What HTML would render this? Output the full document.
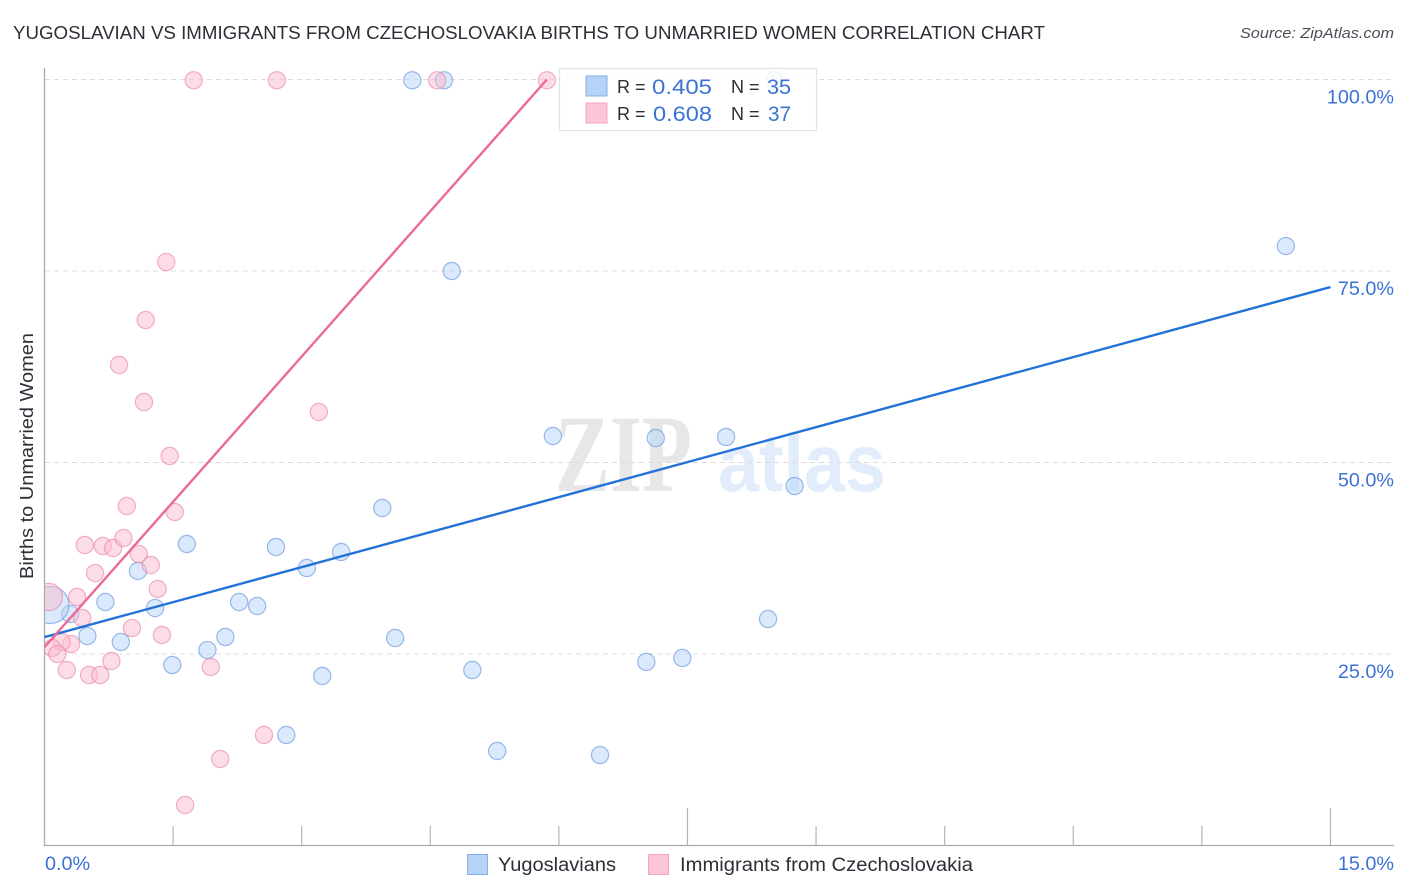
<!DOCTYPE html>
<html lang="en">
<head>
<meta charset="utf-8">
<title>Yugoslavian vs Immigrants from Czechoslovakia Births to Unmarried Women Correlation Chart</title>
<style>
html,body{margin:0;padding:0;background:#fff;}
svg{display:block;font-family:"Liberation Sans",sans-serif;}
</style>
</head>
<body>
<svg id="chart" xmlns="http://www.w3.org/2000/svg" width="1406" height="892" viewBox="0 0 1406 892">
  <defs><clipPath id="plot-clip"><rect x="45" y="60" width="1350" height="786"/></clipPath></defs>
  <rect x="0" y="0" width="1406" height="892" fill="#fff"/>
  <text x="13" y="39" font-size="18.5" fill="#2b2f36" textLength="1032" lengthAdjust="spacingAndGlyphs">YUGOSLAVIAN VS IMMIGRANTS FROM CZECHOSLOVAKIA BIRTHS TO UNMARRIED WOMEN CORRELATION CHART</text>
  <text x="1394" y="38" font-size="15" font-style="italic" fill="#4a4f57" text-anchor="end" textLength="154" lengthAdjust="spacingAndGlyphs">Source: ZipAtlas.com</text>
  <text transform="translate(33,456) rotate(-90)" font-size="18.5" fill="#2b2f36" text-anchor="middle" textLength="246" lengthAdjust="spacingAndGlyphs">Births to Unmarried Women</text>
  <g>
    <text x="555" y="491" font-family="'Liberation Serif',serif" font-weight="bold" font-size="110" fill="#e7e7e7" textLength="137" lengthAdjust="spacingAndGlyphs">ZIP</text>
    <text x="718" y="491" font-weight="bold" font-size="82" fill="#e3ecfb" textLength="168" lengthAdjust="spacingAndGlyphs">atlas</text>
  </g>
  <g id="grid"></g>
  <g id="axes"></g>
  <g id="points" clip-path="url(#plot-clip)"></g>
  <g id="trends"></g>
  <g id="labels"></g>

  <g>
    <rect x="559.5" y="68.5" width="257" height="62" fill="#fff" fill-opacity="0.85" stroke="#e2e2e2" stroke-width="1.2"/>
    <rect x="586" y="76" width="21" height="20" fill="#b5d3f7" stroke="#86aee6" stroke-width="1"/>
    <text x="617" y="93" font-size="18" fill="#2b2f36">R =</text>
    <text x="652" y="94" font-size="21.5" fill="#3b72d6" textLength="60" lengthAdjust="spacingAndGlyphs">0.405</text>
    <text x="731" y="93" font-size="18" fill="#2b2f36">N =</text>
    <text x="767" y="94" font-size="21.5" fill="#3b72d6" textLength="24" lengthAdjust="spacingAndGlyphs">35</text>
    <rect x="586" y="103" width="21" height="20" fill="#fbc6d8" stroke="#f3a5bf" stroke-width="1"/>
    <text x="617" y="120" font-size="18" fill="#2b2f36">R =</text>
    <text x="653" y="121" font-size="21.5" fill="#3b72d6" textLength="59" lengthAdjust="spacingAndGlyphs">0.608</text>
    <text x="731" y="120" font-size="18" fill="#2b2f36">N =</text>
    <text x="768" y="121" font-size="21.5" fill="#3b72d6" textLength="23" lengthAdjust="spacingAndGlyphs">37</text>
  </g>

  <g>
    <rect x="467.5" y="854.5" width="20" height="20" fill="#b5d3f7" stroke="#86aee6" stroke-width="1"/>
    <text x="498" y="871" font-size="19" fill="#2b2f36" textLength="118" lengthAdjust="spacingAndGlyphs">Yugoslavians</text>
    <rect x="648.5" y="854.5" width="20" height="20" fill="#fbc6d8" stroke="#f3a5bf" stroke-width="1"/>
    <text x="680" y="871" font-size="19" fill="#2b2f36" textLength="293" lengthAdjust="spacingAndGlyphs">Immigrants from Czechoslovakia</text>
  </g>
</svg>
<script>
const xTickValues = [0, 1.5, 3, 4.5, 6, 7.5, 9, 10.5, 12, 13.5, 15];
const xMajorTickValues = [7.5, 15];
const xEdgeLabels = ["0.0%", "15.0%"];
const yTickValues = [25, 50, 75, 100];
const yTickLabels = ["25.0%", "50.0%", "75.0%", "100.0%"];

const yugoslavianX = [4.29, 4.66, 8.51, 14.48, 4.75, 5.93, 7.13, 7.95, 8.75, 3.94, 1.66, 2.70, 3.46, 3.06, 1.09, 0.71, 1.29, 2.27, 2.48, 0.30, 0.50, 0.89, 2.11, 4.09, 8.44, 1.90, 1.49, 7.02, 7.44, 4.99, 3.24, 2.82, 5.28, 6.48, 0.07];
const yugoslavianY = [99.9, 99.9, 99.9, 78.26, 75.0, 53.46, 53.2, 53.33, 46.93, 44.06, 39.36, 38.97, 38.32, 36.23, 35.84, 31.79, 31.0, 31.79, 31.27, 30.22, 27.35, 26.57, 27.22, 27.09, 29.57, 25.52, 23.56, 23.96, 24.48, 22.91, 22.13, 14.43, 12.34, 11.81, 31.4];
const immigrantX = [1.74, 2.71, 4.58, 5.86, 1.42, 1.18, 0.87, 3.20, 1.16, 1.46, 0.96, 1.52, 0.47, 0.68, 0.80, 0.92, 1.10, 1.24, 0.59, 1.32, 0.38, 0.44, 1.02, 1.37, 0.31, 0.20, 0.09, 0.15, 0.78, 0.26, 0.52, 0.65, 1.94, 2.56, 2.05, 1.64, 0.05];
const immigrantY = [99.9, 99.9, 99.9, 99.9, 76.17, 68.6, 62.73, 56.6, 57.9, 50.85, 44.32, 43.54, 39.23, 39.1, 38.84, 40.14, 38.05, 36.62, 35.57, 33.49, 32.44, 29.7, 28.39, 27.48, 26.31, 26.57, 25.78, 25.0, 24.09, 22.91, 22.26, 22.26, 23.3, 14.43, 11.29, 5.29, 32.44];

const yugoslavianTrendX = [0, 15];
const yugoslavianTrendY = [27.2, 72.9];
const immigrantTrendX = [0, 5.86];
const immigrantTrendY = [25.9, 100];

const NS = 'http://www.w3.org/2000/svg';
function xScale(v) { return 44.5 + v * 85.73; }
function yScale(v) { return 845.5 - v * 7.66; }
function make(tag, attrs, parent) {
  const el = document.createElementNS(NS, tag);
  for (const k in attrs) el.setAttribute(k, attrs[k]);
  parent.appendChild(el);
  return el;
}

const grid = document.getElementById('grid');
yTickValues.forEach(function (v) {
  const line = make('line', { x1: 45, x2: 1394, y1: yScale(v), y2: yScale(v), stroke: '#dcdcdc', 'stroke-width': 1, 'stroke-dasharray': '5 4' }, grid);
  
  
});

const axes = document.getElementById('axes');
const yAxis = make('line', { x1: 44.5, x2: 44.5, y1: 68, y2: 846, stroke: '#aaaaaa', 'stroke-width': 1.3 }, axes);


const xAxis = make('line', { x1: 44, x2: 1394, y1: 845.5, y2: 845.5, stroke: '#aaaaaa', 'stroke-width': 1.3 }, axes);


xTickValues.forEach(function (v) {
  if (v === 0) return;
  const top = xMajorTickValues.indexOf(v) >= 0 ? 808 : 826;
  const tick = make('line', { x1: xScale(v), x2: xScale(v), y1: top, y2: 846, stroke: '#b4b4b4', 'stroke-width': 1.2 }, axes);
  
  
});

const pointLayer = document.getElementById('points');
function drawSeries(xs, ys, fill, stroke, bigRadius, name) {
  xs.forEach(function (v, i) {
    const isBig = i === xs.length - 1;
    const dot = make('circle', {
      cx: xScale(v), cy: yScale(ys[i]), r: isBig ? bigRadius : 8.6,
      fill: fill, 'fill-opacity': 0.5, stroke: stroke, 'stroke-opacity': 0.6, 'stroke-width': 1.2
    }, pointLayer);
    
    
  });
}
drawSeries(yugoslavianX, yugoslavianY, '#b5d3f7', '#5d90dc', 18.5, 'yugoslavian-point');
drawSeries(immigrantX, immigrantY, '#f9bcd0', '#ea7fa2', 13.6, 'immigrant-point');

const trends = document.getElementById('trends');
const trendA = make('line', { x1: xScale(yugoslavianTrendX[0]), y1: yScale(yugoslavianTrendY[0]), x2: xScale(yugoslavianTrendX[1]), y2: yScale(yugoslavianTrendY[1]), stroke: '#2272d8', 'stroke-width': 2.4 }, trends);


const trendB = make('line', { x1: xScale(immigrantTrendX[0]), y1: yScale(immigrantTrendY[0]), x2: xScale(immigrantTrendX[1]), y2: yScale(immigrantTrendY[1]), stroke: '#ec6a96', 'stroke-width': 2.4 }, trends);



const labels = document.getElementById('labels');
yTickValues.forEach(function (v, i) {
  const t = make('text', { x: 1394, y: yScale(v) + 24, 'font-size': 19.8, fill: '#3b72d6', 'text-anchor': 'end' }, labels);
  t.textContent = yTickLabels[i];
  
  
});
const x0 = make('text', { x: 45, y: 870, 'font-size': 19.8, fill: '#3b72d6' }, labels);
x0.textContent = xEdgeLabels[0];


const x1 = make('text', { x: 1394, y: 870, 'font-size': 19.8, fill: '#3b72d6', 'text-anchor': 'end' }, labels);
x1.textContent = xEdgeLabels[1];


</script>
</body>
</html>
